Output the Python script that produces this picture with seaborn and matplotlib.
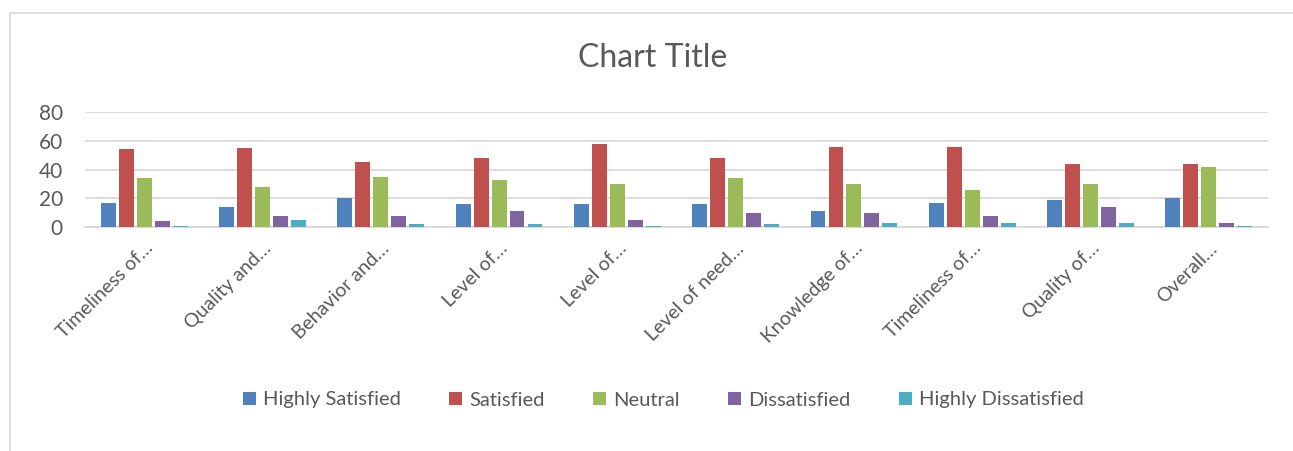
import matplotlib
matplotlib.use("Agg")
import matplotlib.pyplot as plt
from matplotlib.patches import Rectangle
import seaborn as sns
import pandas as pd

categories = [
    "Timeliness of…", "Quality and…", "Behavior and…", "Level of…", "Level of…",
    "Level of need…", "Knowledge of…", "Timeliness of…", "Quality of…", "Overall…",
]
series_names = ["Highly Satisfied", "Satisfied", "Neutral", "Dissatisfied", "Highly Dissatisfied"]
highly_satisfied = [17, 14, 20, 16, 16, 16, 11, 17, 19, 20]
satisfied = [54, 55, 45, 48, 58, 48, 56, 56, 44, 44]
neutral = [34, 28, 35, 33, 30, 34, 30, 26, 30, 42]
dissatisfied = [4, 8, 8, 11, 5, 10, 10, 8, 14, 3]
highly_dissatisfied = [1, 5, 2, 2, 1, 2, 3, 3, 3, 1]
y_ticks = [0, 20, 40, 60, 80]

colors = ["#4F81BD", "#C0504D", "#9BBB59", "#8064A2", "#4BACC6"]

# Long-form table; category index keeps duplicate labels as separate groups
values = [highly_satisfied, satisfied, neutral, dissatisfied, highly_dissatisfied]
rows = []
for name, vals in zip(series_names, values):
    for i, v in enumerate(vals):
        rows.append({"pos": i, "series": name, "value": v})
df = pd.DataFrame(rows)

sns.set_theme(style="white")
plt.rcParams["font.family"] = ["Lato", "DejaVu Sans"]
text_color = "#595959"

fig = plt.figure(figsize=(12.93, 4.51), dpi=100)
ax = fig.add_axes([85 / 1293, 1 - 227 / 451, (1268 - 85) / 1293, (227 - 112) / 451])

sns.barplot(data=df, x="pos", y="value", hue="series", hue_order=series_names,
            palette=colors, width=0.76, gap=0.17, linewidth=0,
            saturation=1, ax=ax, legend=True)

ax.set_ylim(0, 80)
ax.set_yticks(y_ticks)
ax.set_yticklabels([str(t) for t in y_ticks], fontsize=15, color=text_color)
ax.set_xticks(range(len(categories)))
ax.set_xticklabels(categories, rotation=45, ha="right", rotation_mode="anchor",
                   fontsize=14, color=text_color)
ax.tick_params(axis="y", length=0, pad=16)
ax.tick_params(axis="x", length=0, pad=9)
ax.set_xlabel("")
ax.set_ylabel("")
ax.set_xlim(-0.5, len(categories) - 0.5)

ax.yaxis.grid(True, color="#d9d9d9", linewidth=1.3)
ax.set_axisbelow(True)
for side in ["top", "right", "left"]:
    ax.spines[side].set_visible(False)
ax.spines["bottom"].set_color("#d9d9d9")
ax.spines["bottom"].set_linewidth(1.3)
ax.spines["bottom"].set_zorder(0.5)

fig.text(653 / 1293, 1 - 58 / 451, "Chart Title", ha="center", va="center",
         fontsize=23, color=text_color)

handles, labels = ax.get_legend_handles_labels()
ax.legend_.remove()
fig.legend(handles, labels, loc="center", bbox_to_anchor=(663 / 1293, 1 - 400 / 451),
           ncol=5, frameon=False, fontsize=14.5, labelcolor=text_color,
           handlelength=0.65, handleheight=0.65, handletextpad=0.35, columnspacing=2.4)

# chart area border
fig.patches.append(Rectangle((10 / 1293, -0.02), 1.1, 1 - 13 / 451 + 0.02,
                             transform=fig.transFigure, fill=False,
                             edgecolor="#d9d9d9", linewidth=1.3))

fig.savefig("out.png", dpi=100, facecolor="white")
